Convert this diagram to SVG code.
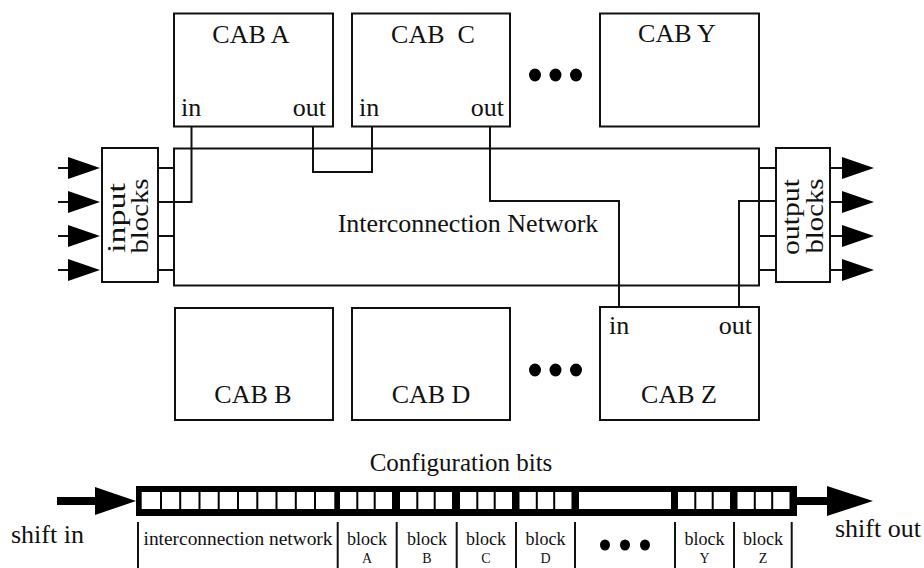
<svg xmlns="http://www.w3.org/2000/svg" width="924" height="568" viewBox="0 0 924 568">
<style>
  .box{fill:#fff;stroke:#111;stroke-width:2}
  .w{fill:none;stroke:#111;stroke-width:2}
  .t{font-family:"Liberation Serif","Times New Roman",serif;fill:#111}
  .big{font-size:26px}
  .mid{font-size:25px}
  .sm{font-size:19px}
  .blk{font-size:18px}
  .xs{font-size:14px}
  .dot{fill:#000}
  .cell{fill:#fff}
  .div{stroke:#000;stroke-width:2}
</style>
<defs>
  <marker id="ah" markerUnits="userSpaceOnUse" viewBox="0 0 32 22" markerWidth="32" markerHeight="22" refX="0" refY="11" orient="auto">
    <path d="M0,0 L32,11 L0,22 Z" fill="#000"/>
  </marker>
</defs>
<rect width="924" height="568" fill="#fff"/>

<g id="network">
  <rect class="box" x="174" y="148.5" width="585" height="137"/>
  <text class="t big" x="468" y="232" text-anchor="middle">Interconnection Network</text>
</g>

<g id="cab-a">
  <rect class="box" x="174" y="13.5" width="159" height="113"/>
  <text class="t big" x="251" y="43" text-anchor="middle">CAB A</text>
  <text class="t big" x="181" y="116">in</text>
  <text class="t big" x="326" y="116" text-anchor="end">out</text>
</g>
<g id="cab-c">
  <rect class="box" x="352" y="13.5" width="158" height="113"/>
  <text class="t big" x="433" y="43" text-anchor="middle" xml:space="preserve">CAB  C</text>
  <text class="t big" x="359" y="116">in</text>
  <text class="t big" x="504" y="116" text-anchor="end">out</text>
</g>
<g id="dots-top">
  <ellipse class="dot" cx="535" cy="75" rx="6" ry="6.5"/>
  <ellipse class="dot" cx="555.5" cy="75" rx="6" ry="6.5"/>
  <ellipse class="dot" cx="576" cy="75" rx="6" ry="6.5"/>
</g>
<g id="cab-y">
  <rect class="box" x="600" y="13.5" width="159" height="113"/>
  <text class="t big" x="677" y="42" text-anchor="middle">CAB Y</text>
</g>

<g id="cab-b">
  <rect class="box" x="175" y="308" width="158" height="112"/>
  <text class="t big" x="253" y="403" text-anchor="middle">CAB B</text>
</g>
<g id="cab-d">
  <rect class="box" x="352" y="308" width="158" height="112"/>
  <text class="t big" x="431" y="403" text-anchor="middle">CAB D</text>
</g>
<g id="dots-bottom">
  <ellipse class="dot" cx="535" cy="370" rx="6" ry="6.5"/>
  <ellipse class="dot" cx="555.5" cy="370" rx="6" ry="6.5"/>
  <ellipse class="dot" cx="576" cy="370" rx="6" ry="6.5"/>
</g>
<g id="cab-z">
  <rect class="box" x="600" y="307" width="159" height="113"/>
  <text class="t big" x="609" y="334">in</text>
  <text class="t big" x="752" y="334" text-anchor="end">out</text>
  <text class="t big" x="679" y="403" text-anchor="middle">CAB Z</text>
</g>

<g id="input-blocks">
  <rect class="box" x="102" y="148" width="56" height="134"/>
  <text class="t big" transform="translate(125,218) rotate(-90)" text-anchor="middle" textLength="70" lengthAdjust="spacingAndGlyphs">input</text>
  <text class="t big" transform="translate(148,216) rotate(-90)" text-anchor="middle" textLength="75" lengthAdjust="spacingAndGlyphs">blocks</text>
</g>
<g id="output-blocks">
  <rect class="box" x="776" y="148" width="54" height="134"/>
  <text class="t big" transform="translate(799,217) rotate(-90)" text-anchor="middle" textLength="76" lengthAdjust="spacingAndGlyphs">output</text>
  <text class="t big" transform="translate(823,216) rotate(-90)" text-anchor="middle" textLength="75" lengthAdjust="spacingAndGlyphs">blocks</text>
</g>

<g id="connectors">
  <path class="w" d="M58,168 H68" marker-end="url(#ah)"/>
  <path class="w" d="M58,202 H68" marker-end="url(#ah)"/>
  <path class="w" d="M58,236 H68" marker-end="url(#ah)"/>
  <path class="w" d="M58,270 H68" marker-end="url(#ah)"/>
  <path class="w" d="M830,168 H842" marker-end="url(#ah)"/>
  <path class="w" d="M830,202 H842" marker-end="url(#ah)"/>
  <path class="w" d="M830,236 H842" marker-end="url(#ah)"/>
  <path class="w" d="M830,270 H842" marker-end="url(#ah)"/>
  <path class="w" d="M158,168 H174 M158,236 H174 M158,270 H174"/>
  <path class="w" d="M759,168 H776 M759,236 H776 M759,270 H776"/>
  <path class="w" d="M191.5,126.5 V202 H158"/>
  <path class="w" d="M313,126.5 V172 H372 V126.5"/>
  <path class="w" d="M490,126.5 V201 H619 V307"/>
  <path class="w" d="M739,307 V201 H776"/>
</g>

<g id="config-bits">
  <text class="t mid" x="461" y="471" text-anchor="middle">Configuration bits</text>
  <rect x="136" y="486" width="661" height="30" fill="#000"/>
  <rect class="cell" x="141.7" y="492" width="192.6" height="17"/>
  <rect class="cell" x="340" y="492" width="52" height="17"/>
  <rect class="cell" x="400" y="492" width="52" height="17"/>
  <rect class="cell" x="460" y="492" width="52" height="17"/>
  <rect class="cell" x="519.5" y="492" width="52" height="17"/>
  <rect class="cell" x="579" y="492" width="92" height="17"/>
  <rect class="cell" x="678" y="492" width="52" height="17"/>
  <rect class="cell" x="737.5" y="492" width="52" height="17"/>
  <path class="div" d="M161,492V509 M180.2,492V509 M199.5,492V509 M218.7,492V509 M238,492V509 M257.3,492V509 M276.5,492V509 M295.8,492V509 M315,492V509
    M357.3,492V509 M374.7,492V509 M417.3,492V509 M434.7,492V509 M477.3,492V509 M494.7,492V509 M536.8,492V509 M554.2,492V509
    M695.3,492V509 M712.7,492V509 M754.8,492V509 M772.2,492V509"/>
  <path d="M57,501 H96" stroke="#000" stroke-width="8"/>
  <path d="M95,487 L136,501 L95,515 Z" fill="#000"/>
  <path d="M796,501 H828" stroke="#000" stroke-width="8"/>
  <path d="M827,486 L873,501 L827,516 Z" fill="#000"/>
  <text class="t big" x="11" y="543">shift in</text>
  <text class="t big" x="835" y="537">shift out</text>
  <path class="w" d="M138,522V568 M337.7,522V568 M396.7,522V568 M456.7,522V568 M516,522V568 M575,522V568 M675,522V568 M734,522V568 M791.7,522V568"/>
  <text class="t sm" x="238" y="545" text-anchor="middle" textLength="189" lengthAdjust="spacingAndGlyphs">interconnection network</text>
  <g class="t blk" text-anchor="middle">
    <text x="367" y="545">block</text>
    <text x="427" y="545">block</text>
    <text x="486" y="545">block</text>
    <text x="545.5" y="545">block</text>
    <text x="704.5" y="545">block</text>
    <text x="763" y="545">block</text>
  </g>
  <g class="t xs" text-anchor="middle">
    <text x="367" y="563">A</text>
    <text x="427" y="563">B</text>
    <text x="486" y="563">C</text>
    <text x="545.5" y="563">D</text>
    <text x="704.5" y="563">Y</text>
    <text x="763" y="563">Z</text>
  </g>
  <ellipse class="dot" cx="605" cy="545" rx="5" ry="5.5"/>
  <ellipse class="dot" cx="625" cy="545" rx="5" ry="5.5"/>
  <ellipse class="dot" cx="645" cy="545" rx="5" ry="5.5"/>
</g>
</svg>
